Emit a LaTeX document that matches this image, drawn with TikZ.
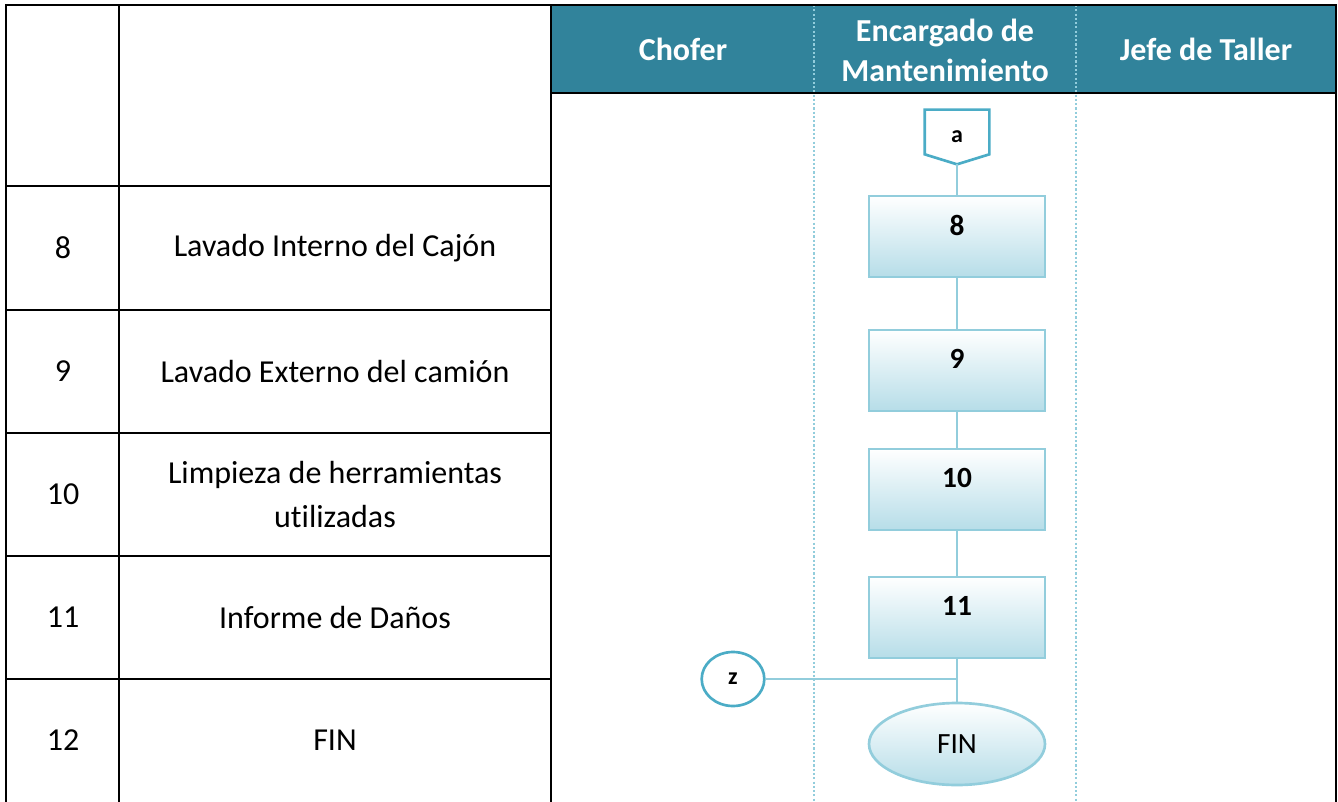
\documentclass[tikz,border=0pt]{standalone}
\usepackage{fontspec}
\setmainfont{Carlito}[Ligatures=NoCommon]
\usetikzlibrary{shapes.geometric}
\definecolor{teal1}{RGB}{49,131,155}
\definecolor{boxline}{RGB}{146,205,220}
\definecolor{connline}{RGB}{75,172,198}
\definecolor{boxbot}{RGB}{182,221,232}
\begin{document}
\begin{tikzpicture}[x=0.75pt,y=-0.75pt,
  tline/.style={line width=1.9pt, draw=black},
  cell/.style={font=\fontsize{24}{33}\selectfont, align=center, inner sep=0pt},
  hdr/.style={font=\fontsize{24}{30}\selectfont\bfseries, text=white, align=center, inner sep=0pt},
  proc/.style={draw=boxline, line width=2pt, top color=white, bottom color=boxbot, minimum width=132pt, minimum height=60.75pt, inner sep=0pt},
  lbl/.style={anchor=center, yshift=-23pt, font=\fontsize{22}{24}\selectfont\bfseries},
  flow/.style={draw=boxline, line width=1.9pt},
  conn/.style={draw=connline, line width=2pt, font=\fontsize{18}{20}\selectfont\bfseries, inner sep=0pt},
  lane/.style={draw=boxline, line width=1.8pt, dash pattern=on 1.6pt off 1.6pt}
]
\useasboundingbox (0,0) rectangle (1338,802);
% header fill
\fill[teal1] (551,5) rectangle (1336,93);
% lane dividers
\draw[lane] (814,5) -- (814,802);
\draw[lane] (1076,5) -- (1076,802);
% table lines
\draw[tline] (6,802) -- (6,5) -- (1336,5) -- (1336,802);
\draw[tline] (119,5) -- (119,802);
\draw[tline] (551,5) -- (551,802);
\draw[tline] (551,93) -- (1336,93);
\foreach \yy in {186,310,433,556,679} \draw[tline] (6,\yy) -- (551,\yy);
% header texts
\node[hdr] (h1) at (683,49) {Chofer};
\node[hdr] (h2) at (945,50) {Encargado de\\Mantenimiento};
\node[hdr] (h3) at (1206,49) {Jefe de Taller};
% table texts
\node[cell] (n8) at (63,248) {8};
\node[cell] (t8) at (335,248) {Lavado Interno del Cajón};
\node[cell] (n9) at (63,371.5) {9};
\node[cell] (t9) at (335,371.5) {Lavado Externo del camión};
\node[cell] (n10) at (63,494.5) {10};
\node[cell] (t10) at (335,494.5) {Limpieza de herramientas\\utilizadas};
\node[cell] (n11) at (63,617.5) {11};
\node[cell] (t11) at (335,617.5) {Informe de Daños};
\node[cell] (n12) at (63,740.5) {12};
\node[cell] (t12) at (335,740.5) {FIN};
% flow
\node[conn, draw=none, minimum width=46.5pt, minimum height=39pt] (a) at (957,137) {\raisebox{-2pt}{a}};
\draw[conn] (a.north west) -- (a.north east) -- ([yshift=7.5pt]a.south east) -- (a.south) -- ([yshift=7.5pt]a.south west) -- cycle;
\node[proc, label={[lbl]north:8}] (b8) at (957,236.5) {};
\node[proc, label={[lbl]north:9}] (b9) at (957,370.5) {};
\node[proc, label={[lbl]north:10}] (b10) at (957,489.5) {};
\node[proc, label={[lbl]north:11}] (b11) at (957,617.5) {};
\node[ellipse, draw=boxline, line width=2pt, top color=white, bottom color=boxbot, minimum width=132pt, minimum height=61.5pt, inner sep=0pt, font=\fontsize{22}{24}\selectfont] (fin) at (957,744) {FIN};
\node[ellipse, conn, minimum width=47pt, minimum height=40.5pt] (z) at (733,679) {z};
\coordinate (j) at (957,679);
\draw[flow] (a.south) -- (b8.north);
\draw[flow] (b8.south) -- (b9.north);
\draw[flow] (b9.south) -- (b10.north);
\draw[flow] (b10.south) -- (b11.north);
\draw[flow] (b11.south) -- (fin.north);
\draw[flow] (z.east) -- (j);
\end{tikzpicture}
\end{document}
